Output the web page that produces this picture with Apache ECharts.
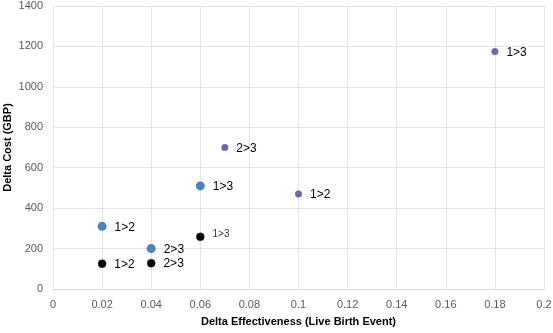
<!DOCTYPE html>
<html><head><meta charset="utf-8">
<script src="https://cdn.jsdelivr.net/npm/echarts@6/dist/echarts.min.js"></script>
<style>html,body{margin:0;padding:0;background:#fff}#c{width:553px;height:333px}</style>
</head><body><div id="c"></div>
<script>
const blueX = [0.02, 0.04, 0.06];
const blueY = [310, 200, 510];
const blueLabels = ['1>2', '2>3', '1>3'];
const blackX = [0.02, 0.04, 0.06];
const blackY = [125, 128, 258];
const blackLabels = ['1>2', '2>3', '1>3'];
const purpleX = [0.07, 0.1, 0.18];
const purpleY = [700, 470, 1175];
const purpleLabels = ['2>3', '1>2', '1>3'];
const xTicks = [0, 0.02, 0.04, 0.06, 0.08, 0.1, 0.12, 0.14, 0.16, 0.18, 0.2];
const yTicks = [0, 200, 400, 600, 800, 1000, 1200, 1400];

const font = '"Liberation Sans", "Open Sans", sans-serif';
function mk(xs, ys, labs, smallIdx) {
  return xs.map((x, i) => ({
    value: [x, ys[i]],
    label: {
      show: true, position: 'right', distance: 8,
      formatter: labs[i], color: smallIdx === i ? '#333' : '#000',
      fontSize: smallIdx === i ? 10 : 12, fontFamily: font,
      offset: smallIdx === i ? [0, -3] : [0, 1]
    }
  }));
}
const chart = echarts.init(document.getElementById('c'));
chart.setOption({
  animation: false,
  grid: { left: 53, right: 9, top: 6, bottom: 44, containLabel: false, outerBoundsMode: 'none' },
  xAxis: {
    type: 'value', min: 0, max: 0.2, interval: 0.02,
    name: 'Delta Effectiveness (Live Birth Event)', nameLocation: 'middle', nameGap: 27, nameMoveOverlap: false,
    nameTextStyle: { fontWeight: 'bold', fontSize: 11, color: '#000', fontFamily: font },
    axisLine: { show: true, lineStyle: { color: '#d9d9d9' } },
    axisTick: { show: false },
    splitLine: { show: true, lineStyle: { color: '#e3e3e3' } },
    axisLabel: { color: '#595959', fontSize: 11, fontFamily: font, margin: 10,
      formatter: v => { const t = xTicks.find(k => Math.abs(k - v) < 1e-9); return t === undefined ? '' : String(t); } }
  },
  yAxis: {
    type: 'value', min: 0, max: 1400, interval: 200,
    name: 'Delta Cost (GBP)', nameLocation: 'middle', nameGap: 40, nameMoveOverlap: false,
    nameTextStyle: { fontWeight: 'bold', fontSize: 11, color: '#000', fontFamily: font },
    axisLine: { show: true, lineStyle: { color: '#e3e3e3' } },
    axisTick: { show: false },
    splitLine: { show: true, lineStyle: { color: '#e3e3e3' } },
    axisLabel: { color: '#595959', fontSize: 11, fontFamily: font, margin: 10,
      formatter: v => yTicks.includes(v) ? String(v) : '' }
  },
  series: [
    { type: 'scatter', symbolSize: 9, itemStyle: { color: '#4f81bd', opacity: 1 }, data: mk(blueX, blueY, blueLabels, -1) },
    { type: 'scatter', symbolSize: 8, itemStyle: { color: '#000000', borderColor: '#1f2a3a', borderWidth: 0.5, opacity: 1 }, data: mk(blackX, blackY, blackLabels, 2) },
    { type: 'scatter', symbolSize: 7, itemStyle: { color: '#7a64a8', opacity: 1 }, data: mk(purpleX, purpleY, purpleLabels, -1) }
  ]
});
</script></body></html>
